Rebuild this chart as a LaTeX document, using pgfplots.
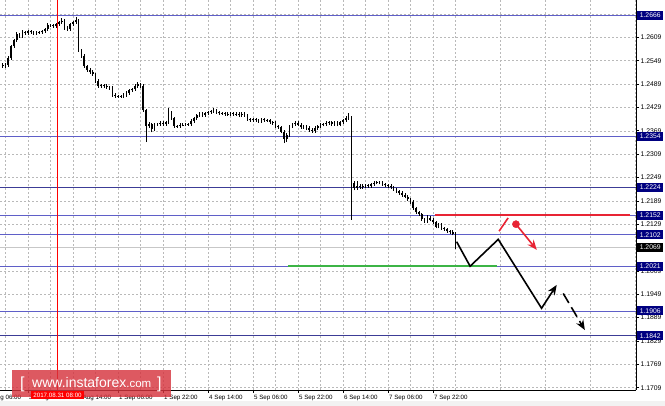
\documentclass[border=0pt]{standalone}
\usepackage{fontspec}
\setmainfont{Liberation Sans}
\usepackage{pgfplots}
\usepackage{pgfplotstable}
\pgfplotsset{compat=1.18}
\usetikzlibrary{arrows.meta}
\definecolor{mtblue}{RGB}{95,95,200}
\definecolor{mtnavy}{RGB}{60,60,150}
\definecolor{boxnavy}{RGB}{0,0,128}
\definecolor{gridc}{RGB}{185,185,185}
\definecolor{lred}{RGB}{232,36,52}
\definecolor{lgreen}{RGB}{60,180,70}
\definecolor{wm}{RGB}{214,52,62}
\pgfplotstableread{
x o h l c
7 1.2538 1.2542 1.2531 1.2535
8 1.2535 1.2542 1.2531 1.2538
9 1.2538 1.2560 1.2534 1.2556
10 1.2556 1.2590 1.2552 1.2586
11 1.2586 1.2606 1.2582 1.2602
12 1.2602 1.2622 1.2598 1.2617
13 1.2617 1.2621 1.2608 1.2612
14 1.2612 1.2627 1.2608 1.2622
15 1.2622 1.2626 1.2616 1.2620
16 1.2620 1.2629 1.2616 1.2625
17 1.2625 1.2629 1.2618 1.2622
18 1.2622 1.2626 1.2616 1.2620
19 1.2620 1.2626 1.2616 1.2622
20 1.2622 1.2626 1.2618 1.2622
21 1.2622 1.2629 1.2618 1.2625
22 1.2625 1.2634 1.2621 1.2630
23 1.2630 1.2645 1.2626 1.2640
24 1.2640 1.2644 1.2636 1.2640
25 1.2640 1.2644 1.2634 1.2638
26 1.2638 1.2647 1.2634 1.2643
27 1.2643 1.2652 1.2639 1.2648
28 1.2648 1.2658 1.2644 1.2651
29 1.2651 1.2655 1.2629 1.2633
30 1.2633 1.2637 1.2626 1.2630
31 1.2630 1.2647 1.2626 1.2643
32 1.2643 1.2652 1.2639 1.2648
33 1.2648 1.2661 1.2644 1.2653
34 1.2653 1.2657 1.2572 1.2576
35 1.2576 1.2580 1.2557 1.2561
36 1.2561 1.2565 1.2531 1.2535
37 1.2535 1.2539 1.2521 1.2525
38 1.2525 1.2529 1.2516 1.2520
39 1.2520 1.2524 1.2510 1.2514
40 1.2514 1.2518 1.2493 1.2497
41 1.2497 1.2501 1.2480 1.2484
42 1.2484 1.2490 1.2480 1.2486
43 1.2486 1.2490 1.2480 1.2484
44 1.2484 1.2488 1.2477 1.2481
45 1.2481 1.2485 1.2475 1.2479
46 1.2479 1.2483 1.2457 1.2461
47 1.2461 1.2465 1.2454 1.2458
48 1.2458 1.2462 1.2454 1.2458
49 1.2458 1.2462 1.2454 1.2458
50 1.2458 1.2465 1.2454 1.2461
51 1.2461 1.2470 1.2457 1.2466
52 1.2466 1.2477 1.2462 1.2473
53 1.2473 1.2480 1.2469 1.2476
54 1.2476 1.2488 1.2472 1.2484
55 1.2484 1.2494 1.2480 1.2489
56 1.2489 1.2493 1.2480 1.2484
57 1.2484 1.2488 1.2418 1.2422
58 1.2422 1.2426 1.2340 1.2381
59 1.2381 1.2392 1.2376 1.2386
60 1.2386 1.2390 1.2365 1.2373
61 1.2373 1.2390 1.2369 1.2386
62 1.2386 1.2390 1.2382 1.2386
63 1.2386 1.2393 1.2382 1.2389
64 1.2389 1.2393 1.2382 1.2386
65 1.2386 1.2395 1.2382 1.2391
66 1.2391 1.2427 1.2387 1.2417
67 1.2417 1.2421 1.2397 1.2401
68 1.2401 1.2405 1.2377 1.2381
69 1.2381 1.2385 1.2377 1.2381
70 1.2381 1.2388 1.2377 1.2384
71 1.2384 1.2388 1.2380 1.2384
72 1.2384 1.2390 1.2380 1.2386
73 1.2386 1.2390 1.2382 1.2386
74 1.2386 1.2398 1.2382 1.2394
75 1.2394 1.2405 1.2390 1.2401
76 1.2401 1.2413 1.2397 1.2409
77 1.2409 1.2416 1.2405 1.2412
78 1.2412 1.2416 1.2405 1.2409
79 1.2409 1.2418 1.2405 1.2414
80 1.2414 1.2421 1.2410 1.2417
81 1.2417 1.2423 1.2413 1.2419
82 1.2419 1.2427 1.2415 1.2422
83 1.2422 1.2426 1.2413 1.2417
84 1.2417 1.2421 1.2410 1.2414
85 1.2414 1.2418 1.2410 1.2414
86 1.2414 1.2418 1.2408 1.2412
87 1.2412 1.2416 1.2408 1.2412
88 1.2412 1.2418 1.2408 1.2414
89 1.2414 1.2418 1.2408 1.2412
90 1.2412 1.2416 1.2408 1.2412
91 1.2412 1.2416 1.2405 1.2409
92 1.2409 1.2416 1.2405 1.2412
93 1.2412 1.2416 1.2405 1.2409
94 1.2409 1.2413 1.2395 1.2399
95 1.2399 1.2403 1.2392 1.2396
96 1.2396 1.2403 1.2392 1.2399
97 1.2399 1.2403 1.2392 1.2396
98 1.2396 1.2400 1.2390 1.2394
99 1.2394 1.2403 1.2390 1.2399
100 1.2399 1.2403 1.2392 1.2396
101 1.2396 1.2400 1.2392 1.2396
102 1.2396 1.2400 1.2387 1.2391
103 1.2391 1.2395 1.2385 1.2389
104 1.2389 1.2393 1.2377 1.2381
105 1.2381 1.2385 1.2374 1.2378
106 1.2378 1.2382 1.2362 1.2366
107 1.2366 1.2370 1.2337 1.2348
108 1.2348 1.2362 1.2340 1.2358
109 1.2358 1.2385 1.2354 1.2381
110 1.2381 1.2390 1.2377 1.2386
111 1.2386 1.2393 1.2382 1.2389
112 1.2389 1.2393 1.2380 1.2384
113 1.2384 1.2388 1.2374 1.2378
114 1.2378 1.2385 1.2374 1.2381
115 1.2381 1.2385 1.2372 1.2376
116 1.2376 1.2380 1.2367 1.2371
117 1.2371 1.2375 1.2364 1.2368
118 1.2368 1.2380 1.2364 1.2376
119 1.2376 1.2385 1.2372 1.2381
120 1.2381 1.2388 1.2377 1.2384
121 1.2384 1.2390 1.2380 1.2386
122 1.2386 1.2393 1.2382 1.2389
123 1.2389 1.2395 1.2385 1.2391
124 1.2391 1.2395 1.2382 1.2386
125 1.2386 1.2393 1.2382 1.2389
126 1.2389 1.2393 1.2380 1.2384
127 1.2384 1.2395 1.2380 1.2391
128 1.2391 1.2400 1.2387 1.2396
129 1.2396 1.2407 1.2392 1.2401
130 1.2401 1.2414 1.2397 1.2404
131 1.2404 1.2408 1.2140 1.2235
132 1.2235 1.2240 1.2216 1.2222
133 1.2222 1.2240 1.2218 1.2227
134 1.2227 1.2232 1.2220 1.2224
135 1.2224 1.2231 1.2220 1.2227
136 1.2227 1.2233 1.2223 1.2229
137 1.2229 1.2233 1.2223 1.2227
138 1.2227 1.2236 1.2223 1.2232
139 1.2232 1.2239 1.2228 1.2235
140 1.2235 1.2241 1.2231 1.2237
141 1.2237 1.2241 1.2231 1.2235
142 1.2235 1.2239 1.2228 1.2232
143 1.2232 1.2236 1.2225 1.2229
144 1.2229 1.2233 1.2223 1.2227
145 1.2227 1.2231 1.2220 1.2224
146 1.2224 1.2228 1.2215 1.2219
147 1.2219 1.2223 1.2210 1.2214
148 1.2214 1.2218 1.2205 1.2209
149 1.2209 1.2213 1.2200 1.2204
150 1.2204 1.2208 1.2195 1.2199
151 1.2199 1.2203 1.2189 1.2193
152 1.2193 1.2197 1.2182 1.2186
153 1.2186 1.2190 1.2166 1.2170
154 1.2170 1.2174 1.2156 1.2160
155 1.2160 1.2164 1.2151 1.2155
156 1.2155 1.2159 1.2138 1.2142
157 1.2142 1.2146 1.2133 1.2137
158 1.2137 1.2152 1.2133 1.2145
159 1.2145 1.2149 1.2136 1.2140
160 1.2140 1.2144 1.2130 1.2134
161 1.2134 1.2138 1.2118 1.2122
162 1.2122 1.2131 1.2118 1.2127
163 1.2127 1.2131 1.2115 1.2119
164 1.2119 1.2123 1.2112 1.2116
165 1.2116 1.2120 1.2107 1.2111
166 1.2111 1.2115 1.2105 1.2109
167 1.2109 1.2113 1.2100 1.2104
168 1.2104 1.2108 1.2066 1.2069
}\candles
\begin{document}
\begin{tikzpicture}
\path[use as bounding box] (0pt,-16pt) rectangle (665pt,390pt);
\fill[black!5] (0pt,-16pt) rectangle (665pt,-11pt);
\begin{axis}[
  at={(0pt,0pt)}, anchor=south west,
  scale only axis, width=636pt, height=390pt,
  xmin=6.044, xmax=232.18, ymin=1.1703, ymax=1.2705,
  axis x line*=bottom, axis y line*=right,
  axis line style={-, black, line width=0.9pt},
  xtick={16,32,...,160},
  xticklabels={30 Aug 22:00, 31 Aug 14:00, 1 Sep 06:00, 1 Sep 22:00, 4 Sep 14:00, 5 Sep 06:00, 5 Sep 22:00, 6 Sep 14:00, 7 Sep 06:00, 7 Sep 22:00},
  minor xtick={8,24,...,232},
  ytick={1.1709,1.1769,1.1829,1.1889,1.1949,1.2009,1.2069,1.2129,1.2189,1.2249,1.2309,1.2369,1.2429,1.2489,1.2549,1.2609,1.2669},
  yticklabels={1.1709,1.1769,1.1829,1.1889,1.1949,1.2009,1.2069,1.2129,1.2189,1.2249,1.2309,1.2369,1.2429,1.2489,1.2549,1.2609,1.2669},
  xmajorgrids, xminorgrids, ymajorgrids,
  grid style={gridc, dash pattern=on 2pt off 2pt, line width=0.5pt},
  minor grid style={gridc, dash pattern=on 2pt off 2pt, line width=0.5pt},
  tick align=outside, major tick length=3pt, minor tick length=0pt,
  tick style={black, line width=0.6pt},
  xticklabel style={anchor=north west, font=\fontsize{6.2}{7}\selectfont, inner xsep=1pt, inner ysep=1.5pt},
  yticklabel style={anchor=west, font=\fontsize{6.8}{8}\selectfont, inner xsep=1.5pt},
]
% horizontal levels
\addplot[mtblue, line width=0.9pt] coordinates {(6.044,1.2666) (232.18,1.2666)};
\addplot[mtblue, line width=0.9pt] coordinates {(6.044,1.2354) (232.18,1.2354)};
\addplot[mtnavy, line width=0.9pt] coordinates {(6.044,1.2224) (232.18,1.2224)};
\addplot[mtblue, line width=0.9pt] coordinates {(6.044,1.2152) (232.18,1.2152)};
\addplot[mtblue, line width=0.9pt] coordinates {(6.044,1.2102) (232.18,1.2102)};
\addplot[black!22, line width=1pt] coordinates {(6.044,1.2069) (232.18,1.2069)};
\addplot[mtblue, line width=0.9pt] coordinates {(6.044,1.2021) (232.18,1.2021)};
\addplot[mtblue, line width=0.9pt] coordinates {(6.044,1.1906) (232.18,1.1906)};
\addplot[mtnavy, line width=0.9pt] coordinates {(6.044,1.1842) (232.18,1.1842)};
% red vertical time marker
\addplot[red, line width=1.3pt] coordinates {(26.5,1.1703) (26.5,1.2705)};
% candles: wicks
\addplot[draw=none, mark=none, error bars/.cd, y dir=plus, y explicit, error mark=none,
  error bar style={draw=black, solid, line width=0.6pt}]
  table[x=x, y=l, y error expr={\thisrow{h}-\thisrow{l}}] {\candles};
% candles: bodies
\addplot[draw=none, mark=none, error bars/.cd, y dir=plus, y explicit, error mark=none,
  error bar style={draw=black, solid, line width=1.7pt}]
  table[x=x, y expr={min(\thisrow{o},\thisrow{c})}, y error expr={max(abs(\thisrow{c}-\thisrow{o}),0.00008)}] {\candles};
% red and green levels
\addplot[lred, line width=2.4pt] coordinates {(160.7,1.2152) (230.0,1.2152)};
\addplot[lgreen, line width=2.4pt] coordinates {(108.4,1.2021) (182.8,1.2021)};
% black forecast path
\addplot[black, line width=1.6pt, -{Stealth[length=10pt,width=8pt]}] coordinates {(168.4,1.2084) (173.2,1.2021) (183.2,1.2090) (198.6,1.1913) (204.0,1.1973)};
\addplot[black, line width=1.6pt, dash pattern=on 11pt off 5pt, -{Stealth[length=10pt,width=8pt]}] coordinates {(206.3,1.1951) (214.0,1.1857)};
% red alternative
\addplot[lred, line width=1.6pt] coordinates {(183.5,1.2111) (186.7,1.2145)};
\addplot[lred, line width=1.6pt, -{Stealth[length=10pt,width=8pt]}] coordinates {(189.5,1.2129) (196.9,1.2063)};
\addplot[only marks, mark=*, mark size=3.6pt, lred] coordinates {(189.5,1.2129)};
% anchors for labels
\coordinate (b2666) at (axis cs:232.18,1.2666);
\coordinate (b2354) at (axis cs:232.18,1.2354);
\coordinate (b2224) at (axis cs:232.18,1.2224);
\coordinate (b2152) at (axis cs:232.18,1.2152);
\coordinate (b2102) at (axis cs:232.18,1.2102);
\coordinate (b2069) at (axis cs:232.18,1.2069);
\coordinate (b2021) at (axis cs:232.18,1.2021);
\coordinate (b1906) at (axis cs:232.18,1.1906);
\coordinate (b1842) at (axis cs:232.18,1.1842);
\coordinate (dateb) at (axis cs:26.5,1.1703);
\coordinate (first) at (axis cs:0,1.1703);
\end{axis}
\tikzset{lvl/.style={anchor=west, fill=boxnavy, text=white, font=\fontsize{6.8}{8}\selectfont, inner xsep=1.2pt, inner ysep=0pt, minimum height=9pt, minimum width=26pt, xshift=1pt}}
\node[lvl] at (b2666) {1.2666};
\node[lvl] at (b2354) {1.2354};
\node[lvl] at (b2224) {1.2224};
\node[lvl] at (b2152) {1.2152};
\node[lvl] at (b2102) {1.2102};
\node[lvl, fill=black] at (b2069) {1.2069};
\node[lvl] at (b2021) {1.2021};
\node[lvl] at (b1906) {1.1906};
\node[lvl] at (b1842) {1.1842};
\node[anchor=north west, font=\fontsize{6.2}{7}\selectfont, inner xsep=1pt, inner ysep=1.5pt, yshift=-3pt] at (first) {30 Aug 06:00};
% watermark
\fill[wm, opacity=0.82] (12pt,-7pt) rectangle (171pt,20pt);
\node[anchor=base west, text=white, inner sep=0pt, font=\fontsize{16}{16}\selectfont] at (20pt,1pt) {[};
\node[anchor=base west, text=white, inner sep=0pt] at (32pt,2pt) {{\fontsize{14}{14}\selectfont www.instaforex}{\fontsize{11.5}{12}\selectfont .com}};
\node[anchor=base west, text=white, inner sep=0pt, font=\fontsize{16}{16}\selectfont] at (157pt,1pt) {]};
% date box
\node[anchor=north, fill=red, text=white, font=\fontsize{6.2}{7}\selectfont, inner xsep=2pt, inner ysep=1.5pt, yshift=-1pt] at (dateb) {2017.08.31 08:00};
\end{tikzpicture}
\end{document}
